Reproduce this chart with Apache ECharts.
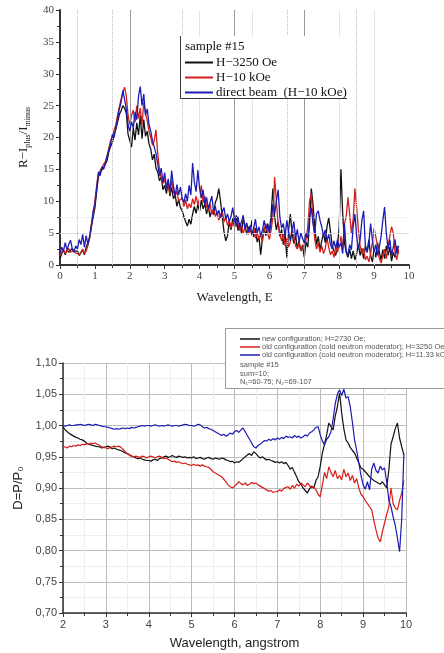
<!DOCTYPE html>
<html>
<head>
<meta charset="utf-8">
<script src="https://cdn.jsdelivr.net/npm/echarts@6/dist/echarts.min.js"></script>
<style>
  html, body { margin: 0; padding: 0; background: #fff; }
  #main { width: 444px; height: 653px; }
</style>
</head>
<body>
<div id="main"></div>
<script>
// top panel: R - I_plus/I_minus vs wavelength, sampled every 0.05 from 0
const topStep = 0.05;
const topBlack = [ // H=3250 Oe
  1.0,1.8,2.3,1.6,2.4,2.0,1.7,2.6,2.1,1.8,2.2,1.5,1.9,2.4,1.6,2.8,3.5,4.2,6.0,7.5,
  9.0,11.5,13.8,14.5,14.2,15.3,15.6,16.4,17.8,18.6,19.2,20.5,21.3,22.4,23.6,24.2,25.0,24.6,23.8,20.5,
  19.5,18.5,21.5,19.6,22.3,20.4,23.5,19.8,22.8,20.2,21.0,19.0,18.2,16.5,17.4,15.2,14.6,13.2,13.8,11.8,
  12.5,11.2,13.0,10.8,12.2,10.4,11.0,9.2,10.3,9.0,8.5,7.6,6.8,6.1,7.2,6.4,8.0,9.2,8.1,9.5,
  8.4,10.2,8.8,9.6,8.0,9.3,7.5,8.6,7.9,9.8,10.5,12.0,10.0,7.5,5.2,3.8,4.6,6.8,5.5,7.3,
  6.0,7.8,5.4,6.6,5.0,7.2,6.3,4.8,6.0,5.2,7.0,4.4,5.8,3.6,4.5,1.6,4.2,5.8,4.6,6.5,
  5.2,8.0,12.0,7.5,5.5,6.8,4.5,5.6,3.2,4.8,1.2,5.5,8.0,5.0,3.4,4.6,2.6,3.8,2.2,3.0,
  1.2,3.6,2.8,6.5,12.0,9.5,6.0,3.2,4.5,2.4,3.8,5.0,3.5,6.0,7.4,5.2,3.0,2.2,1.5,3.0,
  6.0,15.0,8.0,3.5,2.0,1.2,2.5,1.0,2.2,0.8,1.8,3.2,1.5,2.6,1.0,3.0,2.0,4.0,1.5,0.5,
  2.5,1.2,3.5,2.0,0.8,2.4,1.0,3.0,1.5,2.8,0.6,2.0,1.2,3.0,1.8
];
const topRed = [ // H=10 kOe
  1.5,2.0,2.4,1.8,2.2,2.6,2.0,1.7,2.3,1.9,2.1,1.6,2.0,2.5,1.8,2.2,3.0,4.5,6.5,8.0,
  10.0,12.5,14.2,14.8,15.0,15.8,16.2,17.0,18.4,19.5,20.0,21.2,22.0,23.5,24.8,26.0,27.0,27.9,26.5,23.5,
  22.0,23.5,24.3,22.4,25.0,23.0,24.6,22.0,25.5,23.8,22.6,21.0,20.0,18.8,19.5,21.2,17.5,15.0,13.6,12.8,
  13.5,12.0,12.8,11.2,13.4,11.5,10.8,11.6,10.0,9.8,10.5,9.2,10.2,8.8,9.6,9.0,10.4,9.5,10.8,9.4,
  10.5,12.5,9.8,10.8,9.2,8.5,9.6,8.0,8.8,7.6,8.4,7.0,7.8,8.5,6.8,7.5,6.2,7.0,5.8,6.6,
  7.2,6.0,6.8,5.4,6.2,5.0,5.8,6.4,4.8,5.6,4.6,6.0,4.2,5.2,4.0,4.8,3.6,5.5,6.5,5.0,
  4.0,5.5,7.5,13.8,10.0,6.5,4.8,3.8,5.0,3.0,4.2,2.8,3.6,6.0,4.5,3.0,2.5,3.5,2.2,3.2,
  2.8,4.0,6.0,10.0,11.2,7.0,4.0,2.5,3.5,2.0,3.0,1.8,2.6,4.2,2.8,1.6,2.2,1.2,2.8,2.0,
  3.0,4.5,2.5,6.5,7.5,10.6,8.0,5.0,7.2,12.0,9.0,5.5,3.0,1.8,2.6,0.8,1.4,0.5,1.8,3.5,
  5.8,6.0,3.0,1.0,0.3,1.5,2.5,1.0,3.0,4.5,6.0,5.0,2.0,0.8,2.5
];
const topBlue = [ // direct beam (H=10 kOe)
  1.8,2.8,2.2,3.5,2.4,3.2,3.9,2.6,2.0,3.0,2.5,4.0,3.2,4.8,2.8,4.6,3.2,4.5,6.2,8.5,
  9.5,12.0,14.6,14.0,15.4,15.0,16.0,17.2,18.0,19.0,20.5,20.0,21.5,23.0,24.5,25.5,27.4,26.0,24.5,22.0,
  21.0,22.5,21.5,24.0,22.8,26.5,28.0,25.0,26.8,23.5,24.5,22.0,21.0,19.5,18.5,17.5,15.8,14.0,15.2,13.0,
  14.5,12.0,13.5,11.5,14.8,12.4,10.8,12.6,11.0,12.2,10.5,9.8,11.2,10.0,12.5,11.0,16.0,13.0,11.5,14.9,
  12.0,10.5,11.8,9.4,10.6,8.8,9.8,10.8,8.5,9.2,7.8,8.6,7.4,8.4,9.0,7.2,8.0,6.8,7.6,9.0,
  7.0,6.2,7.6,5.8,6.8,7.8,5.6,6.6,5.2,6.2,4.8,5.8,7.2,5.0,6.0,4.6,5.4,7.0,5.6,6.4,
  5.0,6.8,9.5,8.0,10.0,11.8,7.5,5.8,6.5,4.5,7.0,5.2,3.8,5.4,6.8,4.2,5.6,3.6,5.0,4.2,
  3.4,5.0,4.2,7.5,9.0,6.5,5.0,8.0,8.5,7.0,6.0,4.5,5.5,3.8,4.8,3.2,2.5,3.8,2.6,4.0,
  2.8,3.5,1.8,6.5,2.2,1.5,3.2,2.4,6.0,8.0,4.5,2.5,4.0,7.0,8.5,3.0,2.0,3.5,6.5,4.0,
  2.0,3.2,1.5,2.8,4.5,7.0,9.1,5.0,2.5,4.0,1.5,2.8,4.0,1.8,3.0
];
const topNames = ['H\u22123250 Oe', 'H\u221210 kOe', 'direct beam  (H\u221210 kOe)'];

// bottom panel: D = P/P0 vs wavelength, sampled every 0.05 from 2
const botStart = 2;
const botStep = 0.05;
const botBlack = [ // new configuration
  0.998,0.993,0.990,0.987,0.985,0.983,0.981,0.980,0.978,0.977,0.975,0.972,0.970,0.969,0.968,0.967,0.966,0.966,0.964,0.965,
  0.966,0.967,0.965,0.963,0.964,0.962,0.961,0.960,0.958,0.956,0.955,0.953,0.951,0.950,0.948,0.947,0.948,0.946,0.945,0.944,
  0.944,0.943,0.945,0.946,0.944,0.947,0.948,0.950,0.951,0.949,0.950,0.952,0.950,0.949,0.951,0.950,0.949,0.950,0.948,0.949,
  0.948,0.950,0.947,0.948,0.949,0.947,0.946,0.948,0.949,0.947,0.946,0.948,0.947,0.946,0.948,0.947,0.945,0.944,0.942,0.943,
  0.940,0.942,0.941,0.944,0.947,0.950,0.953,0.955,0.952,0.958,0.955,0.951,0.948,0.950,0.947,0.945,0.946,0.944,0.943,0.941,
  0.942,0.940,0.942,0.939,0.941,0.936,0.930,0.933,0.925,0.918,0.910,0.906,0.900,0.896,0.892,0.899,0.903,0.900,0.912,0.918,
  0.935,0.956,0.970,0.985,1.004,0.998,0.993,1.015,1.030,1.052,1.020,0.995,0.977,0.972,0.965,0.960,0.956,0.948,0.940,0.932,
  0.930,0.926,0.922,0.918,0.915,0.912,0.910,0.908,0.906,0.910,0.905,0.900,0.929,0.970,0.982,0.995,1.004,0.980,0.966,0.953
];
const botRed = [ // old configuration, H=3250 Oe
  0.965,0.966,0.964,0.967,0.966,0.968,0.967,0.969,0.968,0.970,0.969,0.971,0.970,0.972,0.971,0.972,0.970,0.968,0.966,0.965,
  0.964,0.963,0.965,0.966,0.967,0.966,0.967,0.965,0.962,0.958,0.955,0.953,0.951,0.950,0.951,0.950,0.949,0.951,0.950,0.948,
  0.950,0.951,0.950,0.948,0.950,0.951,0.949,0.947,0.948,0.946,0.944,0.942,0.943,0.941,0.942,0.940,0.939,0.940,0.938,0.937,
  0.936,0.938,0.936,0.937,0.935,0.937,0.935,0.934,0.933,0.930,0.926,0.924,0.922,0.920,0.918,0.914,0.910,0.905,0.902,0.900,
  0.903,0.906,0.910,0.907,0.905,0.908,0.904,0.906,0.909,0.907,0.908,0.905,0.903,0.901,0.899,0.897,0.895,0.896,0.893,0.894,
  0.894,0.897,0.895,0.899,0.901,0.902,0.898,0.904,0.900,0.906,0.903,0.908,0.905,0.902,0.908,0.904,0.900,0.902,0.897,0.890,
  0.886,0.905,0.925,0.915,0.934,0.925,0.918,0.928,0.915,0.920,0.913,0.930,0.918,0.924,0.912,0.920,0.908,0.915,0.900,0.890,
  0.886,0.880,0.875,0.870,0.865,0.848,0.833,0.820,0.814,0.830,0.844,0.858,0.870,0.900,0.875,0.868,0.865,0.880,0.892,0.912
];
const botBlue = [ // old configuration, H=11.33 kOe
  1.000,0.999,1.000,1.001,1.000,1.000,1.001,1.001,1.002,1.001,1.000,1.001,1.002,1.001,1.000,1.002,1.001,1.000,0.999,0.998,
  0.998,0.997,0.996,0.995,0.994,0.995,0.994,0.995,0.996,0.995,0.996,0.995,0.997,0.996,0.997,0.998,0.999,1.000,0.999,1.000,
  1.000,0.999,1.000,1.001,1.000,0.999,1.000,0.999,1.000,1.001,1.000,0.999,1.000,1.000,0.999,1.000,1.001,1.002,1.001,1.000,
  1.000,0.999,1.000,1.002,1.001,0.998,0.996,0.997,0.995,0.994,0.992,0.990,0.988,0.986,0.984,0.986,0.983,0.985,0.988,0.986,
  0.990,0.992,0.989,0.993,0.996,0.990,0.984,0.978,0.972,0.966,0.964,0.968,0.970,0.973,0.976,0.975,0.978,0.976,0.979,0.977,
  0.980,0.978,0.981,0.979,0.983,0.981,0.982,0.980,0.984,0.981,0.983,0.980,0.982,0.985,0.983,0.988,0.990,0.993,0.997,0.998,
  0.985,0.975,0.969,0.978,0.982,0.990,1.010,1.035,1.050,1.057,1.048,1.058,1.044,1.046,1.030,1.005,0.977,0.960,0.940,0.920,
  0.905,0.898,0.910,0.897,0.930,0.940,0.928,0.924,0.935,0.929,0.932,0.910,0.880,0.870,0.854,0.840,0.820,0.798,0.850,0.955
];
const botNames = [
  'new configuration; H=2730 Oe;',
  'old configuration (cold neutron moderator); H=3250 Oe;',
  'old configuration (cold neutron moderator); H=11.33 kOe'
];
const botNotes = ['sample #15', 'sum=10;', 'N\u2081=60-75; N\u2082=69-107'];

const colors = ['#111111', '#d61f1a', '#1c1cb4'];

function toPairs(vals, start, step) {
  return vals.map((v, i) => [+(start + i * step).toFixed(2), v]);
}

const serif = '"Liberation Serif", "DejaVu Serif", serif';
const sans = '"Liberation Sans", Arial, sans-serif';

const chart = echarts.init(document.getElementById('main'));

// reference lines of the scanned top plot
const solidV = [2, 5, 7];
const dotV = [0.5, 1.5, 3.5, 6.5, 8.5];
const faintV = [4, 5.5, 8, 9];
const gridMarks = []
  .concat(solidV.map(v => ({ xAxis: v, lineStyle: { color: '#999', type: 'solid', width: 1 } })))
  .concat(dotV.map(v => ({ xAxis: v, lineStyle: { color: '#bbb', type: 'dotted', width: 1 } })))
  .concat(faintV.map(v => ({ xAxis: v, lineStyle: { color: '#e4e4e4', type: 'solid', width: 1 } })))
  .concat([{ yAxis: 5, lineStyle: { color: '#ddd', type: 'solid', width: 1 } },
           { yAxis: 7.5, lineStyle: { color: '#e4e4e4', type: 'dotted', width: 1 } }]);

const topSeries = [topBlack, topRed, topBlue].map((vals, k) => ({
  name: topNames[k],
  type: 'line',
  xAxisIndex: 0, yAxisIndex: 0,
  symbol: 'none',
  data: toPairs(vals, 0, topStep),
  lineStyle: { color: colors[k], width: 1.3 },
  itemStyle: { color: colors[k] },
  z: 3 + k
}));

const botSeries = [botBlack, botRed, botBlue].map((vals, k) => ({
  name: botNames[k],
  type: 'line',
  xAxisIndex: 1, yAxisIndex: 1,
  symbol: 'none',
  data: toPairs(vals, botStart, botStep),
  lineStyle: { color: colors[k], width: 1.2 },
  itemStyle: { color: colors[k] },
  z: 3 + k
}));

var option = {
  animation: false,
  backgroundColor: '#fff',
  grid: [
    { left: 60, right: 35, top: 10, bottom: 388 },
    { left: 63, right: 38, top: 363, bottom: 40 }
  ],
  xAxis: [
    {
      gridIndex: 0, type: 'value', min: 0, max: 10, interval: 1,
      name: 'Wavelength, \u0395', nameLocation: 'middle', nameGap: 26,
      nameTextStyle: { fontFamily: serif, fontSize: 13, color: '#222' },
      axisLine: { lineStyle: { color: '#333', width: 2 } },
      axisTick: { length: 4, lineStyle: { color: '#333' } },
      minorTick: { show: true, splitNumber: 2, length: 3, lineStyle: { color: '#333' } },
      axisLabel: { fontFamily: serif, fontSize: 11, color: '#444', margin: 6 },
      splitLine: { show: false }
    },
    {
      gridIndex: 1, type: 'value', min: 2, max: 10, interval: 1,
      name: 'Wavelength, angstrom', nameLocation: 'middle', nameGap: 24,
      nameTextStyle: { fontFamily: sans, fontSize: 13, color: '#222' },
      axisLine: { lineStyle: { color: '#333', width: 1.5 } },
      axisTick: { length: 4, lineStyle: { color: '#333' } },
      minorTick: { show: true, splitNumber: 2, length: 3, lineStyle: { color: '#333' } },
      axisLabel: { fontFamily: sans, fontSize: 11, color: '#444', margin: 6 },
      splitLine: { show: true, lineStyle: { color: '#bdbdbd', width: 1 } },
      minorSplitLine: { show: true, lineStyle: { color: '#eeeeee', width: 1 } }
    }
  ],
  yAxis: [
    {
      gridIndex: 0, type: 'value', min: 0, max: 40, interval: 5,
      name: '{a|R\u2212I}{s|plus}{a|/I}{s|minus}', nameLocation: 'middle', nameGap: 28,
      nameTextStyle: {
        fontFamily: serif, color: '#222',
        rich: {
          a: { fontFamily: serif, fontSize: 13, color: '#222', lineHeight: 16 },
          s: { fontFamily: serif, fontSize: 8, color: '#222', lineHeight: 16, verticalAlign: 'bottom', padding: [6, 0, 0, 0] }
        }
      },
      axisLine: { show: true, lineStyle: { color: '#333', width: 2 } },
      axisTick: { show: true, length: 4, lineStyle: { color: '#333' } },
      minorTick: { show: true, splitNumber: 2, length: 3, lineStyle: { color: '#333' } },
      axisLabel: { fontFamily: serif, fontSize: 11, color: '#444', margin: 6 },
      splitLine: { show: false }
    },
    {
      gridIndex: 1, type: 'value', min: 0.7, max: 1.1, interval: 0.05,
      name: 'D=P/P\u2080', nameLocation: 'middle', nameGap: 33,
      nameTextStyle: { fontFamily: sans, fontSize: 13, color: '#222' },
      axisLine: { show: true, lineStyle: { color: '#333', width: 1.5 } },
      axisTick: { show: true, length: 4, lineStyle: { color: '#333' } },
      minorTick: { show: true, splitNumber: 2, length: 3, lineStyle: { color: '#333' } },
      axisLabel: {
        fontFamily: sans, fontSize: 11, color: '#444', margin: 6,
        formatter: v => v.toFixed(2).replace('.', ',')
      },
      splitLine: { show: true, lineStyle: { color: '#bdbdbd', width: 1 } },
      minorSplitLine: { show: true, lineStyle: { color: '#eeeeee', width: 1 } }
    }
  ],
  legend: [
    {
      data: topNames, orient: 'vertical', left: 185, top: 55, padding: 0,
      icon: 'rect', itemWidth: 28, itemHeight: 2, itemGap: 0, z: 30,
      textStyle: { fontFamily: serif, fontSize: 13, lineHeight: 15, color: '#111', padding: [0, 0, 0, -2] }
    },
    {
      data: botNames, orient: 'vertical', left: 240, top: 335, padding: 0,
      icon: 'rect', itemWidth: 20, itemHeight: 1.5, itemGap: 0, z: 30,
      textStyle: { fontFamily: sans, fontSize: 7.5, lineHeight: 8, color: '#555', padding: [0, 0, 0, -3] }
    }
  ],
  graphic: [
    { type: 'rect', z: 20, shape: { x: 180, y: 36, width: 167, height: 62 }, style: { fill: '#fff' } },
    { type: 'polyline', z: 21, shape: { points: [[180.5, 36], [180.5, 98.5], [347, 98.5]] }, style: { stroke: '#333', lineWidth: 1, fill: null } },
    { type: 'text', z: 21, x: 185, y: 40, style: { text: 'sample #15', font: '13px ' + serif, fill: '#111' } },
    { type: 'rect', z: 20, shape: { x: 225.5, y: 328.5, width: 240, height: 60 }, style: { fill: '#fff', stroke: '#999', lineWidth: 1 } }
  ].concat(botNotes.map((t, i) => ({
    type: 'text', z: 21, x: 240, y: 361 + i * 8.5,
    style: { text: t, font: '7.5px ' + sans, fill: '#555' }
  }))),
  series: [
    {
      type: 'line', xAxisIndex: 0, yAxisIndex: 0, data: [], silent: true, z: 1,
      markLine: { silent: true, symbol: 'none', label: { show: false }, data: gridMarks }
    }
  ].concat(topSeries, botSeries)
};

chart.setOption(option);
</script>
</body>
</html>
